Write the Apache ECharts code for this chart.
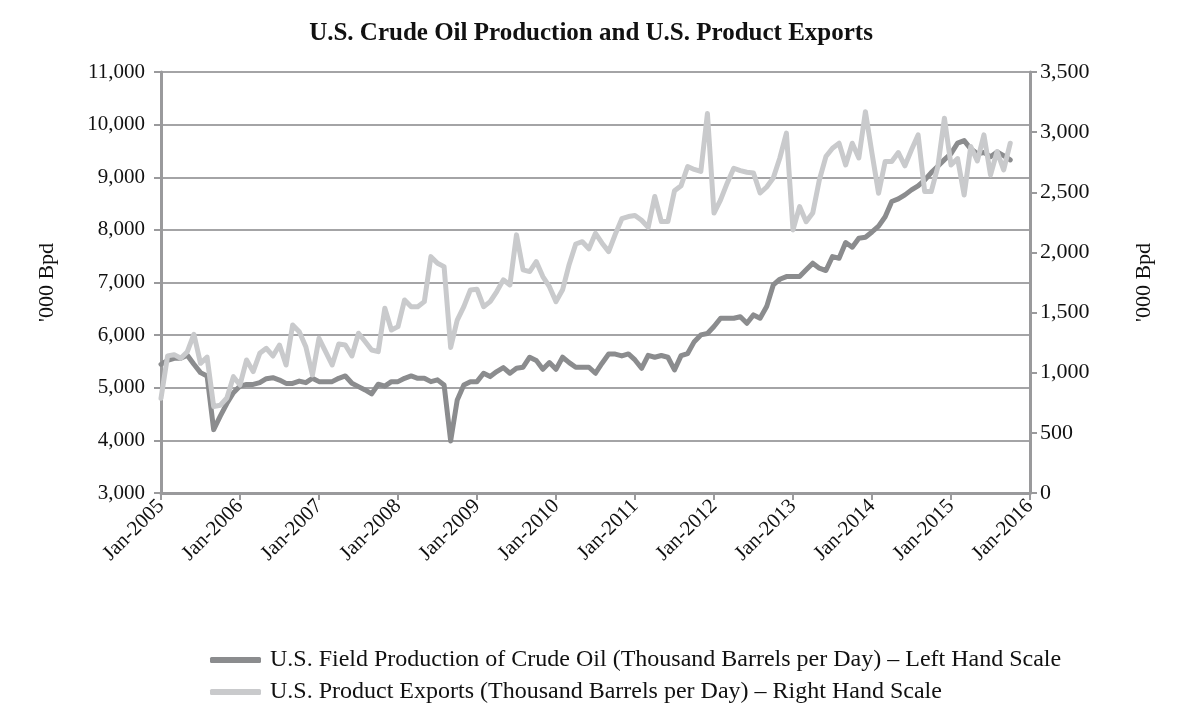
<!DOCTYPE html>
<html><head><meta charset="utf-8">
<script src="https://cdn.jsdelivr.net/npm/echarts@6/dist/echarts.min.js"></script>
<style>html,body{margin:0;padding:0;background:#fff}#c{width:1182px;height:712px}</style>
</head><body><div id="c"></div>
<script>
// Monthly categories Jan-2005 .. Jan-2016
var years = [2005,2006,2007,2008,2009,2010,2011,2012,2013,2014,2015];
var monthNames = ['Jan','Feb','Mar','Apr','May','Jun','Jul','Aug','Sep','Oct','Nov','Dec'];
var categories = [];
years.forEach(function(y){ monthNames.forEach(function(m){ categories.push(m + '-' + y); }); });
categories.push('Jan-2016');

// U.S. Field Production of Crude Oil ('000 bpd) - left scale, Jan-2005 .. Oct-2015
var production = [
 5446,5520,5560,5560,5618,5446,5287,5223,4204,4459,4700,4904,
 5032,5064,5064,5096,5172,5191,5146,5083,5083,5127,5096,5180,
 5116,5116,5116,5180,5224,5085,5021,4958,4882,5066,5030,5116,
 5116,5180,5224,5180,5180,5116,5150,5053,3990,4768,5053,5116,
 5116,5276,5212,5307,5382,5276,5370,5390,5580,5520,5350,5478,
 5350,5580,5478,5390,5390,5390,5276,5466,5640,5640,5605,5643,
 5528,5370,5615,5580,5612,5580,5338,5610,5650,5876,6004,6030,
 6163,6320,6320,6320,6350,6226,6384,6321,6542,6954,7062,7112,
 7112,7112,7240,7367,7272,7227,7493,7461,7760,7671,7842,7860,
 7960,8070,8250,8540,8590,8665,8760,8836,8945,9090,9210,9335,
 9450,9648,9697,9540,9445,9470,9390,9480,9410,9330
];
// U.S. Product Exports ('000 bpd) - right scale
var exportsData = [
 787,1140,1150,1120,1175,1320,1078,1130,719,730,790,967,
 898,1106,1009,1161,1203,1139,1230,1064,1397,1341,1216,981,
 1286,1175,1064,1239,1231,1139,1328,1259,1189,1175,1536,1355,
 1383,1605,1549,1549,1591,1965,1910,1882,1210,1438,1549,1688,
 1694,1549,1591,1675,1772,1730,2146,1855,1841,1924,1799,1715,
 1591,1689,1900,2070,2089,2030,2159,2077,2007,2150,2280,2298,
 2307,2268,2208,2465,2257,2257,2513,2555,2714,2690,2673,3155,
 2327,2437,2576,2700,2680,2667,2660,2494,2544,2619,2785,2992,
 2187,2381,2256,2327,2602,2797,2866,2908,2727,2908,2785,3170,
 2824,2492,2756,2756,2830,2720,2853,2977,2506,2506,2714,3116,
 2727,2780,2478,2880,2760,2977,2644,2839,2686,2908
];
var leftTicks = {min:3000, max:11000, interval:1000};
var rightTicks = {min:0, max:3500, interval:500};
var seriesNames = [
 'U.S. Field Production of Crude Oil (Thousand Barrels per Day) \u2013 Left Hand Scale',
 'U.S. Product Exports (Thousand Barrels per Day) \u2013 Right Hand Scale'
];

var FONT = '"Liberation Serif","Times New Roman",serif';
var AX = '#9a9a9c';
function fmt(v){ return v.toLocaleString('en-US'); }
var chart = echarts.init(document.getElementById('c'));
chart.setOption({
  animation:false,
  backgroundColor:'#fff',
  title:{text:'U.S. Crude Oil Production and U.S. Product Exports', left:'center', top:16,
    textStyle:{fontFamily:FONT, fontWeight:'bold', fontSize:25, color:'#111'}},
  grid:{left:161, right:152, top:72, bottom:219, containLabel:false},
  legend:{orient:'vertical', left:205, top:643, itemGap:8, itemWidth:51, itemHeight:6,
    icon:'roundRect',
    textStyle:{fontFamily:FONT, fontSize:24, color:'#111', padding:[0,0,0,4]},
    data:seriesNames},
  xAxis:{type:'category', data:categories, boundaryGap:false,
    axisLine:{lineStyle:{color:AX, width:3}},
    axisTick:{show:true, length:7, lineStyle:{color:AX, width:2},
      interval:function(i){return i%12===0;}},
    axisLabel:{rotate:45, fontFamily:FONT, fontSize:21, color:'#111', margin:10,
      interval:function(i){return i%12===0;}},
    splitLine:{show:false}},
  yAxis:[
    {type:'value', min:leftTicks.min, max:leftTicks.max, interval:leftTicks.interval, position:'left',
     name:"'000 Bpd", nameLocation:'middle', nameGap:103, nameRotate:90,
     nameTextStyle:{fontFamily:FONT, fontSize:22, color:'#111'},
     axisLine:{show:true, lineStyle:{color:AX, width:3}},
     axisTick:{show:true, length:7, lineStyle:{color:AX, width:2}},
     axisLabel:{fontFamily:FONT, fontSize:21, color:'#111', margin:16, formatter:fmt},
     splitLine:{show:true, lineStyle:{color:'#a4a4a6', width:2}}},
    {type:'value', min:rightTicks.min, max:rightTicks.max, interval:rightTicks.interval, position:'right',
     name:"'000 Bpd", nameLocation:'middle', nameGap:103, nameRotate:90,
     nameTextStyle:{fontFamily:FONT, fontSize:22, color:'#111'},
     axisLine:{show:true, lineStyle:{color:AX, width:3}},
     axisTick:{show:true, length:7, lineStyle:{color:AX, width:2}},
     axisLabel:{fontFamily:FONT, fontSize:22, color:'#111', margin:10, formatter:fmt},
     splitLine:{show:false}}
  ],
  series:[
    {name:seriesNames[0], type:'line', yAxisIndex:0, data:production, showSymbol:false, symbol:'none',
     lineStyle:{color:'#8b8c8e', width:5, cap:'round', join:'round'}, itemStyle:{color:'#8b8c8e'}, z:2},
    {name:seriesNames[1], type:'line', yAxisIndex:1, data:exportsData, showSymbol:false, symbol:'none',
     lineStyle:{color:'#c9cacc', width:5, cap:'round', join:'round'}, itemStyle:{color:'#c9cacc'}, z:3}
  ]
});
</script></body></html>
